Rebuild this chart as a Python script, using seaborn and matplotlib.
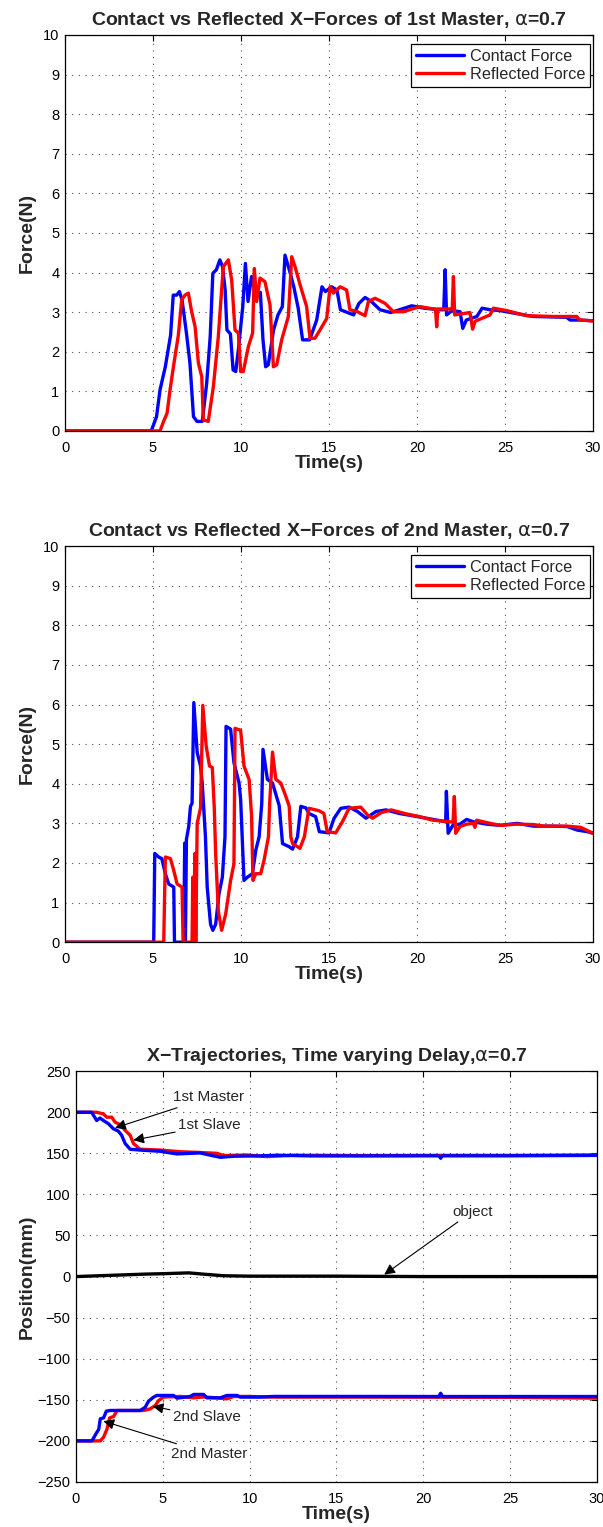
import numpy as np
import pandas as pd
import matplotlib
matplotlib.use("Agg")
import matplotlib.pyplot as plt
import seaborn as sns

# ---- 1st master: contact vs reflected force (N) ----
t1_contact = [0, 4.9, 5.2, 5.4, 5.7, 6.0, 6.15, 6.35, 6.5, 6.65,
              6.9, 7.1, 7.3, 7.5, 7.8, 8.05, 8.25, 8.4, 8.6, 8.8,
              8.95, 9.1, 9.2, 9.4, 9.55, 9.7, 9.85, 10.1, 10.25, 10.4,
              10.6, 10.8, 11.1, 11.25, 11.4, 11.55, 11.85, 12.1, 12.35, 12.5,
              12.8, 13.0, 13.25, 13.5, 13.9, 14.3, 14.6, 14.8, 15.15, 15.45,
              15.65, 16.4, 16.7, 17.05, 17.4, 17.9, 18.5, 19.0, 19.7, 20.4,
              21.3, 21.52, 21.6, 21.68, 22.0, 22.45, 22.6, 22.8, 23.4, 23.7,
              24.15, 24.7, 25.7, 26.6, 28.5, 28.7, 29.3, 30]
f1_contact = [0, 0, 0.36, 1.04, 1.62, 2.42, 3.43, 3.43, 3.52, 3.31,
              2.47, 1.71, 0.36, 0.24, 0.24, 1.2, 2.38, 3.98, 4.07, 4.32,
              4.15, 3.56, 2.55, 2.45, 1.54, 1.5, 2.05, 3.14, 4.23, 3.27,
              3.9, 3.48, 3.5, 2.3, 1.62, 1.67, 2.55, 2.93, 3.14, 4.44,
              3.98, 3.64, 3.1, 2.3, 2.3, 2.8, 3.64, 3.52, 3.64, 3.56,
              3.06, 2.93, 3.22, 3.37, 3.27, 3.06, 2.99, 3.06, 3.16, 3.1,
              3.06, 3.06, 4.07, 2.93, 3.04, 3.01, 2.59, 2.8, 2.89, 3.1,
              3.06, 3.04, 2.96, 2.89, 2.87, 2.8, 2.8, 2.78]

t1_reflect = [0, 5.4, 5.6, 5.8, 5.97, 6.16, 6.44, 6.63, 6.82, 7.01,
              7.2, 7.39, 7.58, 7.77, 7.86, 8.14, 8.43, 8.71, 8.9, 9.0,
              9.28, 9.47, 9.66, 9.85, 9.98, 10.13, 10.42, 10.66, 10.76, 10.89,
              11.08, 11.36, 11.65, 11.84, 12.03, 12.31, 12.69, 12.88, 13.07, 13.35,
              13.73, 13.92, 14.2, 14.49, 14.87, 15.06, 15.25, 15.63, 16.0, 16.19,
              16.57, 17.05, 17.24, 17.62, 18.19, 18.66, 19.22, 20.17, 20.93, 21.05,
              21.12, 21.18, 22.0, 22.07, 22.14, 23.01, 23.16, 23.3, 24.15, 24.34,
              25.09, 26.23, 27.74, 29.07, 29.26, 30]
f1_reflect = [0, 0, 0.24, 0.45, 1.04, 1.62, 2.42, 3.31, 3.43, 3.48,
              3.0, 2.64, 1.71, 1.37, 0.28, 0.24, 1.12, 2.38, 3.56, 4.15,
              4.32, 3.81, 2.55, 2.47, 1.5, 1.5, 2.13, 2.47, 4.1, 3.27,
              3.86, 3.77, 3.18, 1.62, 1.67, 2.3, 2.89, 4.4, 4.15, 3.7,
              3.14, 2.34, 2.34, 2.55, 2.84, 3.64, 3.48, 3.64, 3.56, 3.06,
              3.02, 2.91, 3.27, 3.35, 3.22, 3.01, 3.01, 3.14, 3.08, 3.08,
              2.63, 3.08, 3.08, 3.9, 2.93, 2.99, 2.57, 2.77, 2.93, 3.1,
              3.04, 2.91, 2.89, 2.89, 2.8, 2.78]

# ---- 2nd master: contact vs reflected force (N) ----
t2_contact = [0, 5.04, 5.1, 5.32, 5.5, 5.7, 5.89, 6.18, 6.22, 6.75,
              6.8, 6.84, 6.9, 7.03, 7.13, 7.22, 7.32, 7.51, 7.7, 7.8,
              7.98, 8.08, 8.27, 8.4, 8.56, 8.75, 8.94, 9.09, 9.15, 9.41,
              9.6, 9.89, 9.98, 10.17, 10.36, 10.65, 10.84, 11.03, 11.18, 11.25,
              11.5, 11.79, 12.17, 12.36, 12.74, 12.93, 13.21, 13.4, 13.69, 13.86,
              14.24, 14.45, 15.0, 15.29, 15.67, 16.14, 16.62, 17.1, 17.67, 18.24,
              19.0, 19.77, 20.53, 21.29, 21.63, 21.67, 21.77, 22.05, 22.44, 22.82,
              23.2, 23.96, 24.72, 25.68, 26.63, 27.58, 28.54, 29.11, 29.68, 30]
f2_contact = [0, 0, 2.24, 2.15, 2.11, 1.73, 1.47, 1.39, 0, 0,
              2.5, 0, 2.6, 2.92, 3.43, 3.51, 6.05, 4.79, 4.45, 4.0,
              2.66, 1.39, 0.45, 0.3, 0.45, 1.22, 1.64, 2.66, 5.45, 5.38,
              4.53, 4.02, 3.6, 1.56, 1.64, 1.73, 2.32, 2.66, 3.51, 4.87,
              4.11, 4.02, 3.45, 2.49, 2.41, 2.35, 2.66, 3.43, 3.39, 3.25,
              3.17, 2.79, 2.76, 3.13, 3.38, 3.41, 3.3, 3.13, 3.3, 3.34,
              3.25, 3.19, 3.13, 3.07, 3.04, 3.81, 2.75, 2.96, 2.98, 3.1,
              3.04, 2.98, 2.95, 3.0, 2.93, 2.93, 2.92, 2.83, 2.79, 2.75]

t2_reflect = [0, 5.61, 5.7, 5.99, 6.18, 6.37, 6.65, 6.71, 7.22, 7.26,
              7.3, 7.38, 7.43, 7.51, 7.7, 7.83, 8.02, 8.21, 8.37, 8.48,
              8.56, 8.71, 8.9, 9.13, 9.41, 9.6, 9.66, 9.98, 10.17, 10.46,
              10.6, 10.68, 10.84, 11.12, 11.31, 11.56, 11.63, 11.79, 11.98, 12.26,
              12.55, 12.74, 12.83, 12.93, 13.35, 13.6, 13.86, 14.43, 14.71, 14.9,
              15.38, 15.76, 16.14, 16.81, 17.19, 17.48, 17.96, 18.53, 19.39, 20.15,
              20.91, 22.05, 22.12, 22.2, 22.44, 22.82, 23.2, 23.29, 23.39, 23.96,
              24.72, 25.68, 26.63, 27.2, 28.54, 29.3, 30]
f2_reflect = [0, 0, 2.15, 2.11, 1.81, 1.47, 1.39, 0, 0, 1.64,
              0, 2.24, 0, 3.0, 3.39, 5.98, 4.96, 4.45, 4.41, 3.4,
              2.24, 0.79, 0.3, 0.71, 1.56, 1.98, 5.4, 5.35, 4.45, 4.11,
              3.2, 1.56, 1.73, 1.73, 2.07, 2.66, 3.51, 4.8, 4.11, 4.02,
              3.68, 3.43, 2.66, 2.49, 2.37, 2.66, 3.38, 3.32, 3.25, 2.79,
              2.76, 3.04, 3.38, 3.41, 3.21, 3.13, 3.27, 3.34, 3.24, 3.17,
              3.08, 3.03, 3.68, 2.75, 2.92, 2.98, 3.0, 2.9, 3.08, 3.02,
              2.95, 2.98, 2.97, 2.93, 2.93, 2.9, 2.75]

# ---- X trajectories (mm) ----
t_m1 = [0, 0.9, 1.19, 1.38, 1.58, 1.87, 2.15, 2.44, 2.63, 2.83,
        3.12, 3.69, 4.85, 5.81, 7.15, 7.83, 8.31, 9.08, 10.6, 11.58,
        13.5, 16.4, 20.9, 21.0, 21.1, 25, 30]
x_m1 = [200, 200, 190, 193, 190, 186, 180, 177, 172, 162,
        155, 154, 152.5, 149.3, 150.5, 147.3, 145.2, 146.5, 146.9, 147.7,
        146.9, 146.9, 147, 144, 147, 147, 147.5]

t_s1 = [0, 1.19, 1.58, 1.77, 2.06, 2.25, 2.54, 2.83, 3.12, 3.31,
        3.69, 4.85, 6.0, 7.15, 8.12, 8.5, 9.85, 11.0, 12.54, 16.4,
        20, 25, 30]
x_s1 = [200, 200, 198, 194, 194, 188, 185, 178, 172, 162,
        155, 154, 152, 151, 150, 147.3, 148, 146, 147.7, 147.3,
        147.5, 147.5, 148]

t_obj = [0, 2, 4, 5, 6.5, 7.3, 8.5, 10, 15, 20, 25, 30]
x_obj = [0, 1.5, 3, 3.5, 4.5, 3, 1, 0.5, 0.5, 0, 0, 0]

t_m2 = [0, 0.92, 1.17, 1.31, 1.4, 1.59, 1.75, 1.98, 3.7, 3.99,
        4.18, 4.47, 4.66, 5.62, 5.81, 6.58, 6.78, 7.35, 7.54, 8.31,
        8.69, 9.27, 9.46, 10.6, 11.38, 16.4, 20.9, 21.0, 21.1, 25, 30]
x_m2 = [-200, -200, -190.7, -186, -173.2, -172, -163.8, -163, -163, -159,
        -151.6, -146.7, -144.7, -144.7, -148, -145.9, -143.5, -143.5, -147.6, -147.6,
        -144.7, -144.7, -146.7, -146.7, -145.9, -145.9, -146, -142, -146, -146, -146]

t_s2 = [0, 1.4, 1.59, 1.79, 1.94, 2.17, 2.36, 3.9, 4.28, 4.57,
        4.76, 5.05, 6.0, 6.78, 7.35, 8.12, 8.69, 9.08, 9.85, 11.57,
        16.4, 25, 30]
x_s2 = [-200, -200, -195.5, -185.4, -172, -170.3, -163, -163, -161, -156.9,
        -150.8, -146.7, -145.9, -147.6, -146.5, -147.6, -148.8, -146, -145.9, -146.7,
        -146.7, -147, -148]

force_yticks = list(range(0, 11))
pos_yticks = list(range(-250, 251, 50))
time_xticks = list(range(0, 31, 5))

sns.set_theme(style="white")
plt.rcParams["font.family"] = ["Liberation Sans", "DejaVu Sans"]
plt.rcParams["mathtext.fontset"] = "dejavusans"

BLUE = (0, 0, 1)
RED = (1, 0, 0)
LW = 2.4
ALPHA = "$\\mathrm{\\alpha}$"
LABEL_FS = 14


def draw(ax, t, y, color, label=None):
    df = pd.DataFrame({"t": t, "y": y})
    sns.lineplot(data=df, x="t", y="y", ax=ax, color=color, lw=LW,
                 estimator=None, sort=False, label=label, legend=False)


def style(ax, yticks, ylim):
    ax.set_xlim(0, 30)
    ax.set_ylim(*ylim)
    ax.set_xticks(time_xticks)
    ax.set_yticks(yticks)
    ax.grid(True, color="0.3", linestyle=(0, (1, 5)), lw=0.8)
    for sp in ax.spines.values():
        sp.set_visible(True)
        sp.set_color("black")
        sp.set_linewidth(0.9)
    ax.tick_params(direction="in", length=4, width=0.8, top=True, right=True,
                   labelsize=10.5, colors="black")
    ax.tick_params(axis="x", pad=7)
    ax.tick_params(axis="y", pad=4)
    ax.set_xlabel("Time(s)", fontsize=LABEL_FS, fontweight="bold", labelpad=0)


def legend(ax):
    ax.legend(loc="upper right", bbox_to_anchor=(0.995, 0.978), fontsize=11.7,
              frameon=True, fancybox=False, edgecolor="black", framealpha=1,
              handlelength=3.0, borderpad=0.3, labelspacing=0.22,
              handletextpad=0.35, borderaxespad=0.0)
    ax.get_legend().get_frame().set_linewidth(0.9)


fig = plt.figure(figsize=(6.03, 15.27), dpi=100)

ax1 = fig.add_axes([0.1078, 0.7178, 0.8756, 0.2593])
draw(ax1, t1_contact, f1_contact, BLUE, "Contact Force")
draw(ax1, t1_reflect, f1_reflect, RED, "Reflected Force")
style(ax1, force_yticks, (0, 10))
ax1.set_ylabel("Force(N)", fontsize=LABEL_FS, fontweight="bold", labelpad=5)
ax1.set_title("Contact vs Reflected X\u2212Forces of 1st Master, " + ALPHA + "=0.7",
              fontsize=LABEL_FS, fontweight="bold", pad=7)
legend(ax1)

ax2 = fig.add_axes([0.1078, 0.3830, 0.8756, 0.2593])
draw(ax2, t2_contact, f2_contact, BLUE, "Contact Force")
draw(ax2, t2_reflect, f2_reflect, RED, "Reflected Force")
style(ax2, force_yticks, (0, 10))
ax2.set_ylabel("Force(N)", fontsize=LABEL_FS, fontweight="bold", labelpad=5)
ax2.set_title("Contact vs Reflected X\u2212Forces of 2nd Master, " + ALPHA + "=0.7",
              fontsize=LABEL_FS, fontweight="bold", pad=7)
legend(ax2)

ax3 = fig.add_axes([0.1260, 0.0295, 0.8640, 0.2690])
draw(ax3, t_s1, x_s1, RED)
draw(ax3, t_m1, x_m1, BLUE)
draw(ax3, t_s2, x_s2, RED)
draw(ax3, t_m2, x_m2, BLUE)
draw(ax3, t_obj, x_obj, "black")
style(ax3, pos_yticks, (-250, 250))
ax3.set_ylabel("Position(mm)", fontsize=LABEL_FS, fontweight="bold", labelpad=1)
ax3.set_title("X\u2212Trajectories, Time varying Delay," + ALPHA + "=0.7",
              fontsize=LABEL_FS, fontweight="bold", pad=7)

arrow = dict(arrowstyle="-|>", color="black", lw=0.8, mutation_scale=16,
             shrinkA=0, shrinkB=0)
notes = [("1st Master", (2.25, 181), (5.6, 218)),
         ("1st Slave", (3.3, 166), (5.9, 184)),
         ("object", (17.75, 2.4), (21.65, 79)),
         ("2nd Slave", (4.42, -158), (5.6, -171)),
         ("2nd Master", (1.58, -176), (5.5, -216))]
for txt, tip, at in notes:
    ax3.annotate(txt, xy=tip, xytext=at, fontsize=11, ha="left", va="center",
                 arrowprops=arrow)

fig.savefig("out.png", dpi=100)
